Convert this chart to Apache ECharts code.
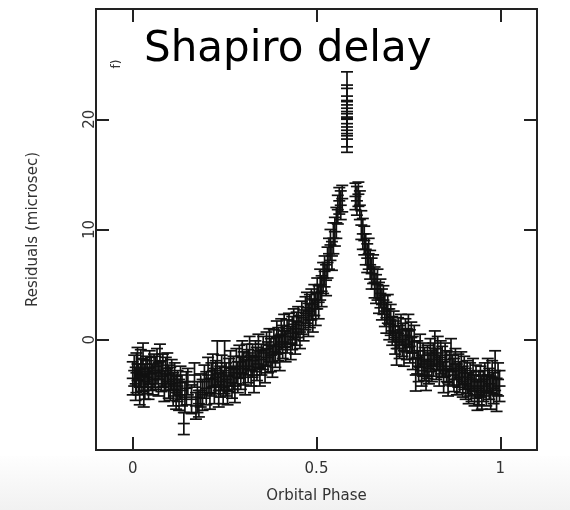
<!DOCTYPE html>
<html>
<head>
<meta charset="utf-8">
<script src="https://cdn.jsdelivr.net/npm/echarts@6/dist/echarts.min.js"></script>
<style>html,body{margin:0;padding:0;background:#fff}#c{width:570px;height:510px}</style>
</head>
<body>
<div id="c"></div>
<script>
// Orbital phase of each TOA residual
const phase = [
0.000,0.004,0.008,0.010,0.013,0.016,0.019,0.022,0.025,0.028,0.030,0.033,0.036,0.040,0.043,0.046,0.050,0.054,0.058,
0.062,0.066,0.070,0.074,0.078,0.082,0.086,0.090,0.094,0.098,0.102,0.106,0.110,0.114,0.118,0.122,0.126,0.130,0.134,0.139,0.142,0.146,0.150,
0.160,0.168,0.172,0.176,0.180,0.185,0.190,0.195,0.200,0.205,0.210,0.214,0.218,0.222,0.226,0.230,0.234,0.238,0.242,0.246,0.250,0.254,0.258,0.262,0.266,0.270,0.274,0.278,0.282,0.286,0.290,0.294,0.298,
0.302,0.306,0.310,0.314,0.318,0.322,0.326,0.330,0.334,0.338,0.342,0.346,0.350,0.355,0.360,0.364,0.368,0.372,0.376,0.380,0.384,0.388,0.392,0.396,0.400,
0.404,0.408,0.412,0.416,0.420,0.425,0.430,0.434,0.438,0.442,0.446,0.450,0.455,0.460,0.465,0.470,0.474,0.478,0.482,0.486,0.490,0.494,0.498,
0.502,0.506,0.510,0.514,0.518,0.522,0.526,0.530,0.534,0.538,0.542,0.546,0.550,0.554,0.558,0.562,0.566,0.570,
0.583,0.583,0.583,0.583,0.583,0.583,0.583,
0.606,0.610,0.614,0.618,0.622,0.626,0.630,0.634,0.638,0.642,0.646,0.650,0.654,0.658,0.662,0.666,0.670,0.674,0.678,0.682,0.686,0.690,0.694,0.698,
0.702,0.706,0.710,0.714,0.718,0.722,0.726,0.730,0.734,0.738,0.742,0.746,0.750,0.754,0.758,0.762,0.766,0.770,0.774,0.778,0.782,0.786,0.790,0.794,0.798,
0.802,0.806,0.810,0.814,0.818,0.822,0.826,0.830,0.834,0.838,0.842,0.846,0.850,0.854,0.858,0.862,0.866,0.870,0.874,0.878,0.882,0.886,0.890,0.894,0.898,
0.902,0.906,0.910,0.914,0.918,0.922,0.926,0.930,0.934,0.938,0.942,0.946,0.950,0.954,0.958,0.962,0.966,0.970,0.974,0.978,0.982,0.986,0.990,0.994,0.998
];
// Residual (microsec)
const residual = [
-3.5,-2.8,-4.0,-3.0,-2.2,-3.6,-4.3,-2.6,-3.2,-1.8,-4.6,-3.8,-2.9,-3.4,-4.0,-2.5,-3.1,-3.6,-2.8,
-3.0,-2.4,-3.6,-2.0,-3.3,-2.8,-4.2,-3.1,-2.6,-3.8,-4.0,-3.2,-4.5,-3.6,-4.8,-4.2,-5.0,-3.9,-4.6,-7.6,-5.2,-4.4,-3.8,
-5.4,-3.2,-6.0,-5.2,-5.8,-4.6,-5.0,-3.8,-4.4,-3.2,-4.9,-3.6,-2.8,-4.2,-3.4,-2.1,-4.6,-3.8,-3.0,-4.3,-2.5,-3.6,-4.6,-3.2,-2.6,-3.9,-3.0,-4.2,-2.4,-3.4,-2.0,-3.0,-1.6,
-2.6,-3.4,-1.8,-2.4,-1.2,-2.8,-1.9,-3.2,-1.5,-2.2,-1.0,-2.6,-1.8,-1.2,-2.4,-0.8,-1.6,-0.5,-1.4,-2.0,-0.6,-1.1,0.2,-0.4,-1.2,
0.5,-0.2,0.8,-0.6,0.3,1.0,-0.3,0.6,1.4,0.2,1.0,1.6,0.7,2.0,1.3,2.4,2.9,1.8,2.6,3.2,2.2,3.6,2.8,
4.2,3.4,5.0,4.4,5.6,6.2,5.4,7.0,7.8,8.6,7.6,9.2,9.8,10.6,11.8,12.6,12.2,12.8,
22.8,21.6,20.7,20.2,19.6,19.0,18.5,
13.0,12.6,13.2,12.2,10.4,9.6,9.0,8.2,7.4,7.8,6.8,6.0,6.4,5.2,4.6,5.0,3.8,4.2,3.2,3.6,2.6,2.0,2.8,1.4,
1.8,0.8,1.2,0.2,-0.8,0.6,-0.2,0.9,0.0,-1.0,0.4,-0.4,0.8,-0.6,0.2,-1.2,-0.2,-3.2,-1.6,-2.4,-1.0,-2.8,-1.8,-2.2,-3.2,
-2.0,-2.6,-1.4,-2.4,-1.8,-0.8,-2.2,-1.2,-2.8,-1.6,-2.0,-3.4,-1.8,-2.4,-3.9,-2.6,-1.4,-2.8,-3.2,-2.2,-3.6,-2.8,-3.4,-2.6,-3.8,
-3.0,-4.0,-3.4,-4.4,-3.6,-4.2,-3.2,-4.6,-3.8,-5.0,-4.4,-3.8,-4.8,-4.2,-3.6,-4.6,-3.2,-4.0,-4.8,-3.4,-4.4,-2.8,-5.0,-3.6,-4.2
];
// 1-sigma uncertainty (microsec)
const sigma = [
1.5,1.4,1.5,1.8,1.5,1.4,1.6,1.7,1.5,1.5,1.5,1.6,1.4,1.5,1.4,1.5,1.5,1.4,1.5,
1.5,1.6,1.5,1.6,1.4,1.5,1.4,1.5,1.4,1.5,1.5,1.4,1.5,1.5,1.5,1.4,1.4,1.5,1.4,1.0,1.4,1.5,1.2,
1.3,1.1,1.2,1.4,1.2,1.5,1.4,1.5,1.5,1.6,1.4,1.5,1.5,1.6,1.5,2.0,1.5,1.4,1.6,1.5,2.4,1.5,1.3,1.5,1.6,1.4,1.5,1.5,1.6,1.4,1.5,1.5,1.5,
1.5,1.6,1.4,1.5,1.5,1.4,1.5,1.6,1.4,1.5,1.5,1.6,1.4,1.5,1.5,1.5,1.4,1.5,1.5,1.4,1.5,1.4,1.5,1.5,1.6,
1.4,1.5,1.5,1.4,1.5,1.4,1.5,1.5,1.4,1.5,1.5,1.4,1.5,1.5,1.4,1.5,1.4,1.5,1.5,1.4,1.5,1.4,1.5,
1.4,1.5,1.4,1.4,1.4,1.4,1.4,1.4,1.4,1.4,1.3,1.4,1.3,1.4,1.3,1.2,1.3,1.2,
1.5,1.5,1.4,1.5,1.4,1.5,1.5,
1.2,1.3,1.1,1.3,1.3,1.4,1.3,1.4,1.3,1.4,1.3,1.4,1.3,1.4,1.3,1.4,1.4,1.3,1.4,1.3,1.4,1.4,1.3,1.4,
1.4,1.3,1.4,1.5,1.5,1.4,1.5,1.4,1.5,1.4,1.5,1.4,1.5,1.5,1.4,1.5,1.5,1.45,1.5,1.4,1.5,1.4,1.5,1.5,1.4,
1.5,1.4,1.5,1.4,1.5,1.6,1.4,1.5,1.4,1.5,1.4,1.4,1.5,1.4,1.2,1.5,1.5,1.4,1.5,1.4,1.4,1.5,1.4,1.5,1.4,
1.5,1.4,1.5,1.4,1.5,1.4,1.5,1.4,1.5,1.4,1.5,1.4,1.5,1.4,1.5,1.4,1.5,1.4,1.5,1.5,1.4,1.8,1.5,1.5,1.4
];
const xTicks = [0, 0.5, 1];
const yTicks = [0, 10, 20];

const chart = echarts.init(document.getElementById('c'), null, {renderer: 'canvas'});
const data = phase.map((p, i) => [p, residual[i], sigma[i]]);
const FONT = 'DejaVu Sans';
const tickStyle = {show: true, inside: true, length: 13, lineStyle: {color: '#222', width: 2}};
const noLine = {show: false, onZero: false};

chart.setOption({
  animation: false,
  backgroundColor: '#fff',
  grid: {left: 96, right: 33, top: 9, bottom: 60, show: true, borderColor: '#222', borderWidth: 2, backgroundColor: 'transparent'},
  graphic: [
    {type: 'rect', z: -10, silent: true, shape: {x: 0, y: 456, width: 570, height: 54},
     style: {fill: new echarts.graphic.LinearGradient(0, 0, 0, 1, [{offset: 0, color: '#fefefe'}, {offset: 1, color: '#f1f1f1'}])}},
    {type: 'text', x: 144, y: 50, z: 10, style: {text: 'Shapiro delay', font: '42px "DejaVu Sans"', fill: '#000', textVerticalAlign: 'middle'}},
    {type: 'text', x: 117, y: 64, rotation: Math.PI / 2, z: 10, style: {text: 'f)', font: '12px "DejaVu Sans"', fill: '#333', align: 'center', verticalAlign: 'middle'}}
  ],
  xAxis: [
    {type: 'value', min: -0.1, max: 1.1, position: 'bottom', splitLine: {show: false}, axisLine: noLine,
     axisTick: Object.assign({customValues: xTicks}, tickStyle),
     axisLabel: {customValues: xTicks, margin: 12, fontSize: 15, fontFamily: FONT, color: '#333'},
     name: 'Orbital Phase', nameLocation: 'middle', nameGap: 39, nameTextStyle: {fontSize: 15, fontFamily: FONT, color: '#333'}},
    {type: 'value', min: -0.1, max: 1.1, position: 'top', splitLine: {show: false}, axisLine: noLine,
     axisTick: Object.assign({customValues: xTicks}, tickStyle), axisLabel: {show: false}}
  ],
  yAxis: [
    {type: 'value', min: -10, max: 30, interval: 10, position: 'left', splitLine: {show: false}, axisLine: noLine,
     axisTick: Object.assign({customValues: yTicks}, tickStyle),
     axisLabel: {customValues: yTicks, rotate: 90, margin: -2, fontSize: 15, fontFamily: FONT, color: '#333'},
     name: 'Residuals (microsec)', nameLocation: 'middle', nameGap: 55, nameRotate: 90, nameTextStyle: {fontSize: 15, fontFamily: FONT, color: '#333'}},
    {type: 'value', min: -10, max: 30, interval: 10, position: 'right', splitLine: {show: false}, axisLine: noLine,
     axisTick: Object.assign({customValues: yTicks}, tickStyle), axisLabel: {show: false}}
  ],
  series: [{
    type: 'custom',
    xAxisIndex: 0, yAxisIndex: 0,
    clip: true,
    encode: {x: 0, y: 1},
    data: data,
    renderItem: function (params, api) {
      const x = api.value(0), y = api.value(1), e = api.value(2);
      const mid = api.coord([x, y]);
      const top = api.coord([x, y + e]);
      const bot = api.coord([x, y - e]);
      const w = 6;
      const st = {stroke: '#111', lineWidth: 1.7, fill: null};
      return {type: 'group', children: [
        {type: 'line', shape: {x1: mid[0], y1: top[1], x2: mid[0], y2: bot[1]}, style: st},
        {type: 'line', shape: {x1: mid[0] - w, y1: top[1], x2: mid[0] + w, y2: top[1]}, style: st},
        {type: 'line', shape: {x1: mid[0] - w, y1: bot[1], x2: mid[0] + w, y2: bot[1]}, style: st},
        {type: 'line', shape: {x1: mid[0] - w, y1: mid[1], x2: mid[0] + w, y2: mid[1]}, style: st}
      ]};
    }
  }]
});
</script>
</body>
</html>
